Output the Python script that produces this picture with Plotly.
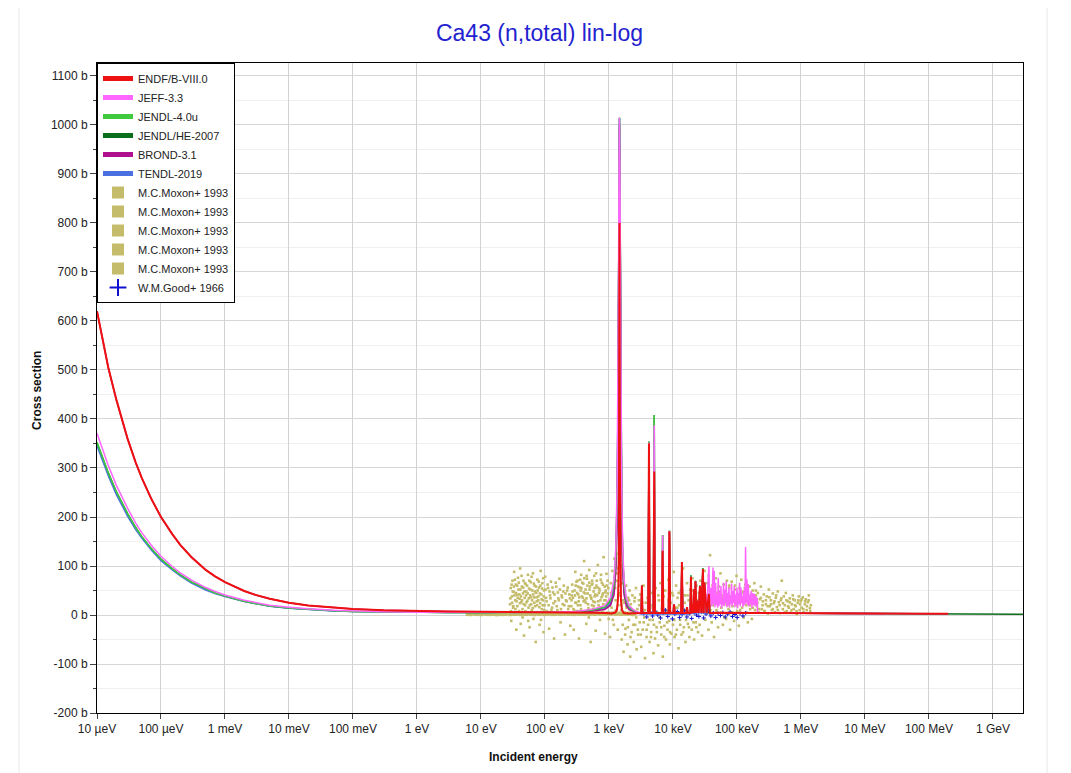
import plotly.graph_objects as go

# energies in eV, cross sections in barns

# thermal / 1/v part, shared energy grid
low_e = [1e-5, 1.2e-5, 1.5e-5, 2e-5, 2.5e-5, 3e-5, 4e-5, 5e-5, 7e-5, 1e-4, 1.5e-4, 2e-4, 3e-4,
         5e-4, 7e-4, 1e-3, 2e-3, 3e-3, 5e-3, 1e-2, 2e-2, 5e-2, 0.1, 0.3, 1, 3, 10, 30, 100, 300]
endf_low = [620, 566, 505, 440, 395, 360, 312, 280, 238, 200, 165, 143, 118,
            92, 79, 67, 49, 41, 33, 25, 19.5, 14.5, 12, 9.5, 8, 7.2, 6.8, 6.5, 6.3, 5.5]
jeff_low = [371, 340, 305, 265, 238, 218, 188, 168, 143, 120, 99, 86, 71,
            56, 48, 41, 30, 25, 20, 16, 12.5, 9.5, 8, 6.5, 5.8, 5.5, 5.4, 5.5, 5.8, 7]
jendl_low = [352, 323, 290, 252, 226, 207, 179, 160, 136, 114, 94, 82, 67,
             53, 45, 38.5, 28, 23.5, 18.5, 14.5, 11.5, 8.5, 7, 6, 5.4, 5.2, 5.1, 5.2, 5.5, 6.5]
tendl_low = [345, 316, 284, 246, 221, 202, 175, 157, 133, 111, 92, 80, 65,
             51, 44, 37.5, 27.5, 23, 18, 14, 11, 8.3, 7, 5.9, 5.3, 5.1, 5.0, 5.1, 5.4, 6.2]

# big s-wave resonance near 1.46 keV
peak_e = [560, 860, 1060, 1200, 1280, 1340, 1380, 1410, 1435, 1460, 1485, 1510, 1540, 1580,
          1640, 1720, 1860, 2060, 2360, 2800]
jeff_peak = [12, 19, 36, 74, 138, 262, 443, 673, 900, 1015, 900, 673, 443, 262, 138, 74, 36, 19, 12, 6]
jendl_peak = [10, 16, 30, 62, 120, 235, 410, 650, 890, 1015, 890, 650, 410, 235, 120, 62, 30, 16, 10, 5]
tendl_peak = [9, 13, 24, 50, 100, 205, 380, 620, 870, 1012, 870, 620, 380, 205, 100, 50, 24, 13, 9, 4]
brond_peak = [8, 11, 20, 42, 90, 190, 360, 600, 850, 1000, 850, 600, 360, 190, 90, 42, 20, 11, 8, 4]
endf_peak_e = [600, 900, 1100, 1250, 1330, 1380, 1410, 1430, 1445, 1460, 1475, 1490, 1510, 1540,
               1600, 1700, 2000, 2600]
endf_peak = [4.5, 4, 3, 5, 10, 30, 70, 160, 330, 800, 330, 160, 70, 30, 10, 4, 3, 3.5]

# resolved resonances 3 - 37 keV
res_e = [3200, 3270, 3340, 4100, 4220, 4330, 4950, 5100, 5230, 6700, 6900, 7080, 8550, 8800, 9050,
         10150, 10400, 10650, 13400, 13800, 14200, 16200, 16600, 17000, 18700, 19100, 19600,
         20300, 20900, 21500, 22000, 22500, 23300, 24200, 25300, 26400, 27800, 29400, 30200,
         31000, 33500, 36500, 37500]
endf_res = [4, 60, 4, 4, 350, 4, 4, 293, 4, 4, 131, 4, 4, 171, 4, 4, 22, 4, 4, 108, 4, 4, 16, 4,
            4, 78, 4, 22, 4, 53, 4, 69, 4, 29, 4, 59, 4, 94, 4, 66, 4, 43, 4]
jeff_res = [4, 60, 4, 4, 352, 4, 4, 387, 4, 4, 162, 4, 4, 171, 4, 4, 22, 4, 4, 108, 4, 4, 16, 4,
            4, 78, 4, 22, 4, 53, 4, 69, 4, 29, 4, 59, 4, 94, 4, 66, 8, 100, 14]
jendl_res = [4, 61, 4, 4, 354, 4, 4, 408, 4, 4, 163, 4, 4, 172, 4, 4, 22, 4, 4, 108, 4, 4, 16, 4,
             4, 81, 4, 22, 4, 53, 4, 70, 4, 29, 4, 60, 4, 96, 4, 66, 4, 44, 4]
tendl_res = [2, 40, 2, 2, 300, 2, 2, 260, 2, 2, 110, 2, 2, 150, 2, 2, 15, 2, 2, 90, 2, 2, 10, 2,
             2, 60, 2, 15, 2, 40, 2, 50, 2, 20, 2, 45, 2, 80, 2, 50, 2, 30, 2]

# JEFF-3.3 unresolved-looking structure 39 - 210 keV
jeff_urr_e = [39300, 40700, 42200, 43200, 44200, 45300, 46400, 47500, 48700, 49900, 51100, 52300,
              53600, 54900, 56200, 57500, 58900, 60300, 61700, 63300, 64900, 66500, 68100, 69700,
              71300, 73100, 75000, 76800, 78600, 80500, 82400, 84500, 86600, 88700, 90800, 92900,
              95100, 97500, 100000, 102400, 104800, 107300, 109800, 112600, 115500, 118200,
              121000, 123900, 126900, 129200, 131600, 133900, 136300, 139800, 143300, 146700,
              150200, 153800, 157400, 162300, 167200, 171200, 175200, 180700, 186200, 192100,
              198000, 202700, 207500, 210000]
jeff_urr = [56, 18, 97, 22, 90, 16, 66, 20, 43, 15, 76, 18,
            49, 22, 59, 14, 35, 20, 66, 18, 52, 24, 69, 16,
            45, 20, 56, 15, 39, 22, 64, 18, 49, 24, 59, 16,
            42, 20, 56, 14, 45, 22, 66, 18, 56, 24,
            39, 16, 49, 20, 56, 22, 139, 24, 73, 20,
            63, 18, 42, 22, 49, 15, 45, 20, 44, 18,
            39, 20, 35, 4]

# fast region
fast_e = [50000, 1e5, 1e6, 1e7, 2e7]
endf_fast = [4.5, 4.2, 3.8, 3.0, 2.8]
endf_he_e = [1e8, 2e8]
endf_he = [2.6, 2.5]
tendl_he_e = [1e8, 2e8]
tendl_he = [2.5, 2.4]
jendlhe_he_e = [1e8, 2e8, 5e8, 1e9, 3e9]
jendlhe_he = [2.5, 2.0, 1.6, 1.5, 1.5]

# experimental data (EXFOR), (energy, cross section)
moxon_band = [(6.2, 2.1), (6.8, 1.6), (7.5, 2.8), (8.3, 1.9), (9.1, 2.4), (10, 1.5), (11, 2.9),
              (12.2, 2.0), (13.4, 1.7), (14.7, 2.6), (16.2, 2.2), (17.8, 1.4), (19.6, 2.7),
              (21.5, 1.8), (23.7, 2.3), (26, 3.0), (28.6, 1.6), (31.5, 2.5), (34.6, 2.0), (38, 2.9),
              (41.8, 1.7), (46, 2.4), (50.6, 1.9), (55.7, 2.8), (61.2, 2.2), (67.3, 1.5), (74, 2.6),
              (81.4, 2.0), (89.6, 3.1), (98.5, 1.8), (108, 2.4), (119, 2.9), (131, 1.7), (144, 2.3),
              (158, 2.7), (174, 1.9), (192, 2.5), (211, 3.2), (232, 2.0), (255, 2.6), (281, 1.8),
              (309, 3.0), (340, 2.3), (374, 2.8), (411, 1.9), (452, 3.3), (497, 2.4), (547, 2.9),
              (602, 2.1), (662, 3.4), (728, 2.6), (801, 3.0), (881, 2.2), (969, 3.5), (1066, 2.7),
              (1173, 3.1), (1290, 2.4), (1420, 3.0), (1560, 2.2), (1720, 2.9), (1890, 2.5),
              (2080, 3.1), (2290, 2.3), (2510, 2.8)]
moxon_lo = [(28.5, 22), (29.2, 55), (29.8, -12), (30.4, 38), (31.0, 70), (31.7, 15), (32.3, 47),
            (33.0, 88), (33.6, 5), (34.3, 30), (35.0, 62), (35.7, -30), (36.4, 41), (37.1, 18),
            (37.9, 76), (38.6, 52), (39.4, 8), (40.2, 33), (41.0, 95), (41.8, -18), (42.7, 26),
            (43.5, 58), (44.4, 12), (45.3, 44), (46.2, 70), (47.1, -42), (48.1, 35), (49.0, 20),
            (50.0, 63), (51.0, 48), (52.1, 2), (53.1, 29), (54.2, 82), (55.3, 15), (56.4, 54),
            (57.5, -25), (58.7, 40), (59.9, 67), (61.1, 22), (62.3, 10), (63.6, 50), (64.9, 85),
            (66.2, -8), (67.5, 36), (68.9, 60), (70.3, 18), (71.7, -55), (73.1, 45), (74.6, 28),
            (76.1, 72), (77.7, 6), (79.2, 38), (80.8, 56), (82.5, -20), (84.1, 24), (85.8, 90),
            (87.6, 42), (89.3, 12), (91.1, 65), (93.0, 30), (94.9, -35), (96.8, 50), (98.7, 20),
            (100.7, 78), (104, 35), (108, 8), (112, 55), (116, -28), (120, 40), (124, 68),
            (129, 15), (134, 46), (139, -48), (144, 28), (150, 58), (156, 10), (162, 34),
            (168, 74), (175, -15), (182, 40), (189, 22), (197, 60), (205, -40), (213, 30),
            (222, 50), (231, 12), (240, 42), (249, -22),
            (28.8, 34), (29.5, 8), (30.1, 62), (30.7, 25), (31.4, 48), (32.0, 18), (32.7, 58),
            (33.3, 40), (33.9, 72), (34.6, 12), (35.3, 45), (36.0, 28), (36.8, 60), (37.5, 35),
            (38.2, 2), (39.0, 66), (39.8, 42), (40.6, 24), (41.4, 52), (42.2, 38), (43.1, 80),
            (43.9, 30), (44.8, -5), (45.7, 56), (46.6, 22), (47.6, 48), (48.5, 65), (49.5, 8),
            (50.5, 40), (51.5, 26), (52.6, 60), (53.6, 44), (54.7, -12), (55.8, 34), (57.0, 70),
            (58.1, 20), (59.3, 52), (60.5, 36), (61.7, 78), (63.0, 30), (64.3, 14), (65.6, 42),
            (66.9, 64), (68.2, 25), (69.6, 48), (71.0, 4), (72.4, 58), (73.9, 36), (75.4, 20),
            (76.9, 50), (78.5, 30), (80.0, 68), (81.7, 16), (83.3, 44), (85.0, 60), (86.7, -10),
            (88.5, 32), (90.2, 54), (92.1, 20), (94.0, 75), (95.8, 38), (97.8, 10), (102, 52),
            (106, 28), (110, 62), (114, 20), (118, 48), (122, 34), (126, 10), (131, 56), (136, 24),
            (141, 42), (147, 66), (153, 18), (159, 46), (165, 30), (171, 52), (178, 12), (185, 36),
            (193, 48), (201, 20), (209, 44), (218, 28), (227, 56), (236, 18), (245, 34)]
moxon_mid = [(258, 18), (262, 40), (266, 62), (274, 35), (282, -30), (286, 10), (290, 50), (298, 88),
             (302, 60), (306, 25), (314, 8), (318, 45), (322, 70), (331, 42), (336, 28), (340, -48),
             (349, 56), (354, 72), (358, 20), (368, 82), (372, 55), (378, 38), (388, 2), (392, 35),
             (398, 64), (409, 110), (413, 75), (420, 30), (431, 52), (436, 25), (442, -18),
             (454, 74), (460, 60), (466, 44), (478, 14), (484, -5), (491, 92), (504, 58),
             (510, 40), (517, -55), (531, 33), (538, 62), (545, 70), (559, 12), (566, 28),
             (574, 48), (589, 80), (596, 55), (604, 26), (620, -32), (628, 85), (636, 60),
             (653, 40), (662, 10), (670, 102), (688, 20), (697, 45), (706, 54), (724, -10),
             (734, 30), (743, 72), (763, 36), (773, 66), (783, 6), (804, 62), (815, 22),
             (825, 118), (847, 30), (858, 58), (869, -38), (892, 50), (904, 38), (915, 84),
             (939, 16), (952, 70), (964, 44), (989, -8),
             (260, 30), (270, 48), (278, 12), (294, 40), (310, 68), (326, 20), (344, 36), (362, 50),
             (382, 66), (402, 28), (425, 44), (448, 80), (472, 22), (497, 52), (523, 36), (552, 64),
             (581, 18), (612, 42), (644, 70), (678, 28), (714, 50), (752, 82), (792, 40), (834, 14),
             (878, 46), (924, 60), (972, 24), (266, 5), (298, 25), (330, 58), (366, 12), (404, 46),
             (446, 34), (492, 66), (542, 20), (598, 38), (660, 56), (728, 16), (803, 44), (886, 30),
             (978, 55)]
moxon_kev = [(1010, 30), (1040, -45), (1070, 65), (1100, 15), (1130, 90), (1160, 40), (1190, -20),
             (1220, 115), (1250, 55), (1280, 10), (1310, 125), (1340, 70), (1370, -30), (1400, 95),
             (1430, 40), (1520, 100), (1550, 20), (1580, -50), (1610, 65), (1650, 30), (1690, -75),
             (1730, 48), (1770, 5), (1810, -28), (1860, 60), (1900, 18), (1950, -60), (2000, 35),
             (2050, -10), (2100, 50), (2150, -85), (2200, 22), (2260, -35), (2320, 40), (2380, 0),
             (2440, -55), (2500, 28), (2570, -20), (2640, 55), (2710, -70), (2780, 12), (2860, -40),
             (2940, 30), (3020, -15), (3100, 42), (3190, -65), (3280, 10), (3370, -30), (3460, 60),
             (3560, -5), (3660, -88), (3760, 25), (3870, -45), (3980, 35), (4090, -20), (4200, 70),
             (4320, -55), (4440, 15), (4570, -35), (4700, 45), (4830, -10), (4970, -78), (5110, 20),
             (5250, -48), (5400, 55), (5550, -25), (5710, 5), (5870, -62), (6040, 30), (6210, -15),
             (6390, 65), (6570, -40), (6750, 12), (6950, -85), (7140, 38), (7350, -22), (7560, 50),
             (7770, -50), (7990, 8), (8220, -30), (8450, 72), (8690, -12), (8940, -60), (9190, 25),
             (9450, -38), (9720, 45), (10000, -20), (10300, 88), (10600, -45), (10900, 15),
             (11200, 60), (11500, -30), (11800, 35), (12200, -68), (12500, 20), (12900, -10),
             (13300, 50), (13600, -40), (14000, 28), (14400, 95), (14800, -25), (15300, 40),
             (15700, -55), (16200, 10), (16600, 65), (17100, -18), (17600, 30), (18100, -45),
             (18600, 52), (19100, 5), (19700, -30), (20200, 75), (20800, 20), (21400, -50),
             (22000, 38), (22700, -15), (23300, 60), (24000, 10), (24700, -35),
             (1030, 20), (1090, 45), (1150, -10), (1210, 60), (1270, 30), (1330, 85), (1390, 20),
             (1450, 60), (1500, 45), (1570, 10), (1640, -20), (1710, 25), (1790, -40), (1880, 15),
             (1970, -25), (2070, 30), (2170, -45), (2290, 10), (2410, -20), (2540, 35), (2670, -5),
             (2820, -30), (2970, 20), (3140, -40), (3310, 25), (3490, -15), (3680, 10), (3880, -30),
             (4090, 30), (4310, -10), (4540, -45), (4790, 20), (5050, -20), (5320, 5), (5610, -35),
             (5910, 40), (6230, -5), (6570, -25), (6920, 20), (7300, -45), (7690, 10), (8110, -15),
             (8550, 30), (9010, -35), (9500, 5), (10000, 40), (10500, -10), (11100, -40),
             (11700, 15), (12300, 45), (13000, -20), (13700, 10), (14400, -35), (15200, 25),
             (16000, -10), (16900, 40), (17800, -25), (18800, 20), (19800, 50), (20900, -15),
             (22000, 15), (23200, -25), (24500, 30)]
moxon_fast = [(25400, 45), (26100, -20), (26900, 70), (27700, 12), (28500, -42), (29300, 55),
              (30200, 25), (31100, 90), (32000, -10), (32900, 40), (33900, 65), (34900, 5),
              (35900, -30), (36900, 50), (38000, 122), (39100, 20), (40300, -15), (41400, 60),
              (42700, 35), (43900, -45), (45200, 28), (46500, 75), (47900, 10), (49300, 45),
              (50700, -25), (52200, 58), (53700, 30), (55300, 85), (56900, 5), (58600, 40),
              (60300, -20), (62000, 62), (63900, 22), (65700, 48), (67700, -8), (69600, 70),
              (71700, 32), (73800, 12), (75900, 55), (78100, -30), (80400, 38), (82800, 68),
              (85200, 18), (87700, 45), (90300, -12), (92900, 60), (95600, 25), (98400, 80),
              (101000, 8), (104000, 42), (107000, -22), (110000, 55), (114000, 30), (117000, 72),
              (120000, 15), (124000, 48), (128000, -5), (131000, 35), (135000, 62), (139000, 20),
              (143000, 45), (148000, -15), (152000, 30), (157000, 58), (161000, 12), (166000, 38),
              (171000, -8), (176000, 50), (181000, 25), (187000, 65), (192000, 10), (198000, 40),
              (205000, 18), (212000, 45), (220000, 5), (228000, 32), (236000, 58), (245000, 12),
              (254000, 28), (263000, 42), (273000, 8), (283000, 22), (293000, 38), (304000, 3),
              (315000, 52), (327000, 18), (339000, 30), (351000, 10), (364000, 44), (377000, 24),
              (391000, 6), (405000, 35), (420000, 16), (435000, 48), (451000, 26), (467000, 4),
              (485000, 30), (502000, 70), (521000, 12), (540000, 38), (559000, 20), (580000, 45),
              (601000, 8), (623000, 28), (646000, 15), (669000, 34), (694000, 5), (719000, 22),
              (745000, 40), (772000, 12), (801000, 30), (830000, 18), (860000, 2), (891000, 25),
              (924000, 38), (958000, 10), (993000, 28), (1030000, 15), (1070000, 36), (1100000, 6),
              (1150000, 22), (1190000, 32), (1230000, 10), (1280000, 26), (1330000, 40),
              (1380000, 14), (1430000, 20),
              (25800, 20), (27300, 40), (28900, 5), (30600, 50), (32400, 15), (34300, 35),
              (36300, 80), (38400, 10), (40600, 40), (43000, 20), (45500, 55), (48200, 5),
              (51000, 30), (54000, 48), (57100, 15), (60400, 35), (63900, -5), (67600, 42),
              (71500, 20), (75700, 60), (80100, 28), (84700, 5), (89600, 38), (94800, 52),
              (100300, 20), (106100, 35), (112300, 10), (118800, 45), (125700, 25), (133000, 55),
              (140700, 5), (148900, 35), (157500, 20), (166600, 42), (176300, 15), (186500, 30),
              (197300, 50), (209000, 25), (222000, 12), (236000, 35), (251000, 20), (267000, 8),
              (284000, 30), (302000, 18), (321000, 36), (341000, 22), (363000, 12), (386000, 28),
              (410000, 40), (436000, 10), (464000, 20), (493000, 34), (524000, 24), (557000, 6),
              (592000, 30), (630000, 18), (670000, 26), (712000, 10), (757000, 32), (805000, 20),
              (856000, 8), (910000, 30), (968000, 22), (1030000, 32), (1090000, 12),
              (1160000, 28), (1240000, 18), (1320000, 30), (1400000, 8)]
good_1966 = [(3500, 3), (3900, -4), (4400, 6), (4800, -2), (5300, 8), (5800, 0), (6400, -6),
             (7000, 4), (7600, 10), (8300, -3), (9000, 5), (9800, -8), (10700, 2), (11700, 7),
             (12700, -5), (13900, 1), (15100, 9), (16500, -4), (18000, 3), (19600, -7), (21400, 5),
             (23300, 0), (25400, -3), (27700, 6), (30200, -6), (32900, 2), (35900, 8), (39100, -2),
             (42700, 4), (46500, -5), (50700, 3), (55300, -1), (60300, 5), (65700, -4), (71700, 2),
             (78100, 6), (85200, -3), (92900, 1), (101000, -5), (112000, 3), (124000, -2),
             (137000, 4)]

x_tickvals = [1e-5, 1e-4, 1e-3, 1e-2, 1e-1, 1, 10, 100, 1e3, 1e4, 1e5, 1e6, 1e7, 1e8, 1e9]
x_ticktext = ["10 µeV", "100 µeV", "1 meV", "10 meV", "100 meV", "1 eV", "10 eV", "100 eV",
              "1 keV", "10 keV", "100 keV", "1 MeV", "10 MeV", "100 MeV", "1 GeV"]
y_tickvals = list(range(-200, 1101, 100))
y_ticktext = ["%d b" % v for v in y_tickvals]

FONT = "Liberation Sans, Arial, sans-serif"
EXP_COLOR = "#c4bc6a"

fig = go.Figure()

# experimental points first, evaluations drawn over them
for i, pts in enumerate([moxon_band, moxon_lo, moxon_mid, moxon_kev, moxon_fast]):
    e, xs = zip(*pts)
    fig.add_trace(go.Scatter(
        x=e, y=xs, mode="markers", name="M.C.Moxon+ 1993",
        marker=dict(symbol="square", size=4 if i == 0 else 2.6, color=EXP_COLOR),
        legendrank=7 + i,
    ))

e, xs = zip(*good_1966)
fig.add_trace(go.Scatter(
    x=e, y=xs, mode="markers", name="W.M.Good+ 1966",
    marker=dict(symbol="cross-thin", size=3, line=dict(width=1, color="#1010d0")),
    legendrank=12,
))

evaluations = [
    ("JENDL/HE-2007", "#0a6e1a", 4, low_e + peak_e + res_e + fast_e + jendlhe_he_e,
     jendl_low + jendl_peak + jendl_res + endf_fast + jendlhe_he),
    ("TENDL-2019", "#4a6fe0", 6, low_e + peak_e + res_e + fast_e + tendl_he_e,
     tendl_low + tendl_peak + tendl_res + endf_fast + tendl_he),
    ("BROND-3.1", "#b0108f", 5, low_e + peak_e + res_e + fast_e,
     endf_low + brond_peak + endf_res + endf_fast),
    ("JENDL-4.0u", "#3ec93e", 3, low_e + peak_e + res_e + fast_e,
     jendl_low + jendl_peak + jendl_res + endf_fast),
    ("JEFF-3.3", "#ff66ff", 2, low_e + peak_e + res_e + jeff_urr_e + fast_e[2:],
     jeff_low + jeff_peak + jeff_res + jeff_urr + endf_fast[2:]),
    ("ENDF/B-VIII.0", "#ee1111", 1, low_e + endf_peak_e + res_e + fast_e + endf_he_e,
     endf_low + endf_peak + endf_res + endf_fast + endf_he),
]
for name, color, rank, e, xs in evaluations:
    fig.add_trace(go.Scatter(
        x=e, y=xs, mode="lines", name=name,
        line=dict(color=color, width=2 if rank == 1 else 1.5),
        legendrank=rank,
    ))

fig.update_layout(
    width=1063, height=765,
    margin=dict(l=89, r=48, t=55, b=60),
    paper_bgcolor="white", plot_bgcolor="white",
    font=dict(family=FONT, size=12, color="#222"),
    title=dict(text="Ca43 (n,total) lin-log", x=0.5, xref="container", y=0.967,
               yanchor="middle", font=dict(size=23, color="#2323cf")),
    showlegend=True,
    legend=dict(x=0, y=1, xanchor="left", yanchor="top", bgcolor="white",
                bordercolor="black", borderwidth=1, font=dict(size=11, color="#222"),
                itemsizing="constant", tracegroupgap=0),
    xaxis=dict(type="log", range=[-5, 9.47], tickvals=x_tickvals, ticktext=x_ticktext,
               showgrid=True, gridcolor="#d2d2d2", ticks="outside", ticklen=5,
               linecolor="black", linewidth=1, mirror=True, zeroline=False),
    yaxis=dict(range=[-200, 1126.5], tickvals=y_tickvals, ticktext=y_ticktext,
               showgrid=True, gridcolor="#d6d6d6", ticks="outside", ticklen=6,
               minor=dict(dtick=50, tick0=0, ticks="outside", ticklen=3, showgrid=True,
                          gridcolor="#f0f0f0"),
               linecolor="black", linewidth=1, mirror=True, zeroline=False),
    yaxis2=dict(overlaying="y", side="right", range=[-200, 1126.5], tickvals=y_tickvals,
                showticklabels=False, showgrid=False, ticks="inside", ticklen=6,
                minor=dict(dtick=50, tick0=0, ticks="inside", ticklen=3),
                zeroline=False, showline=False),
    annotations=[
        dict(text="<b>Incident energy</b>", xref="paper", yref="paper", x=0.471, y=-0.0677,
             xanchor="center", yanchor="middle", showarrow=False,
             font=dict(size=12, color="#111")),
        dict(text="<b>Cross section</b>", xref="paper", yref="paper", x=-0.0648, y=0.497,
             xanchor="center", yanchor="middle", textangle=-90, showarrow=False,
             font=dict(size=12, color="#111")),
    ],
    shapes=[
        dict(type="rect", xref="paper", yref="paper", x0=-0.0842, x1=1.026, y0=-0.2, y1=1.0908,
             line=dict(color="#e8e8e8", width=1), layer="below"),
    ],
)

fig.write_html("out.html")
